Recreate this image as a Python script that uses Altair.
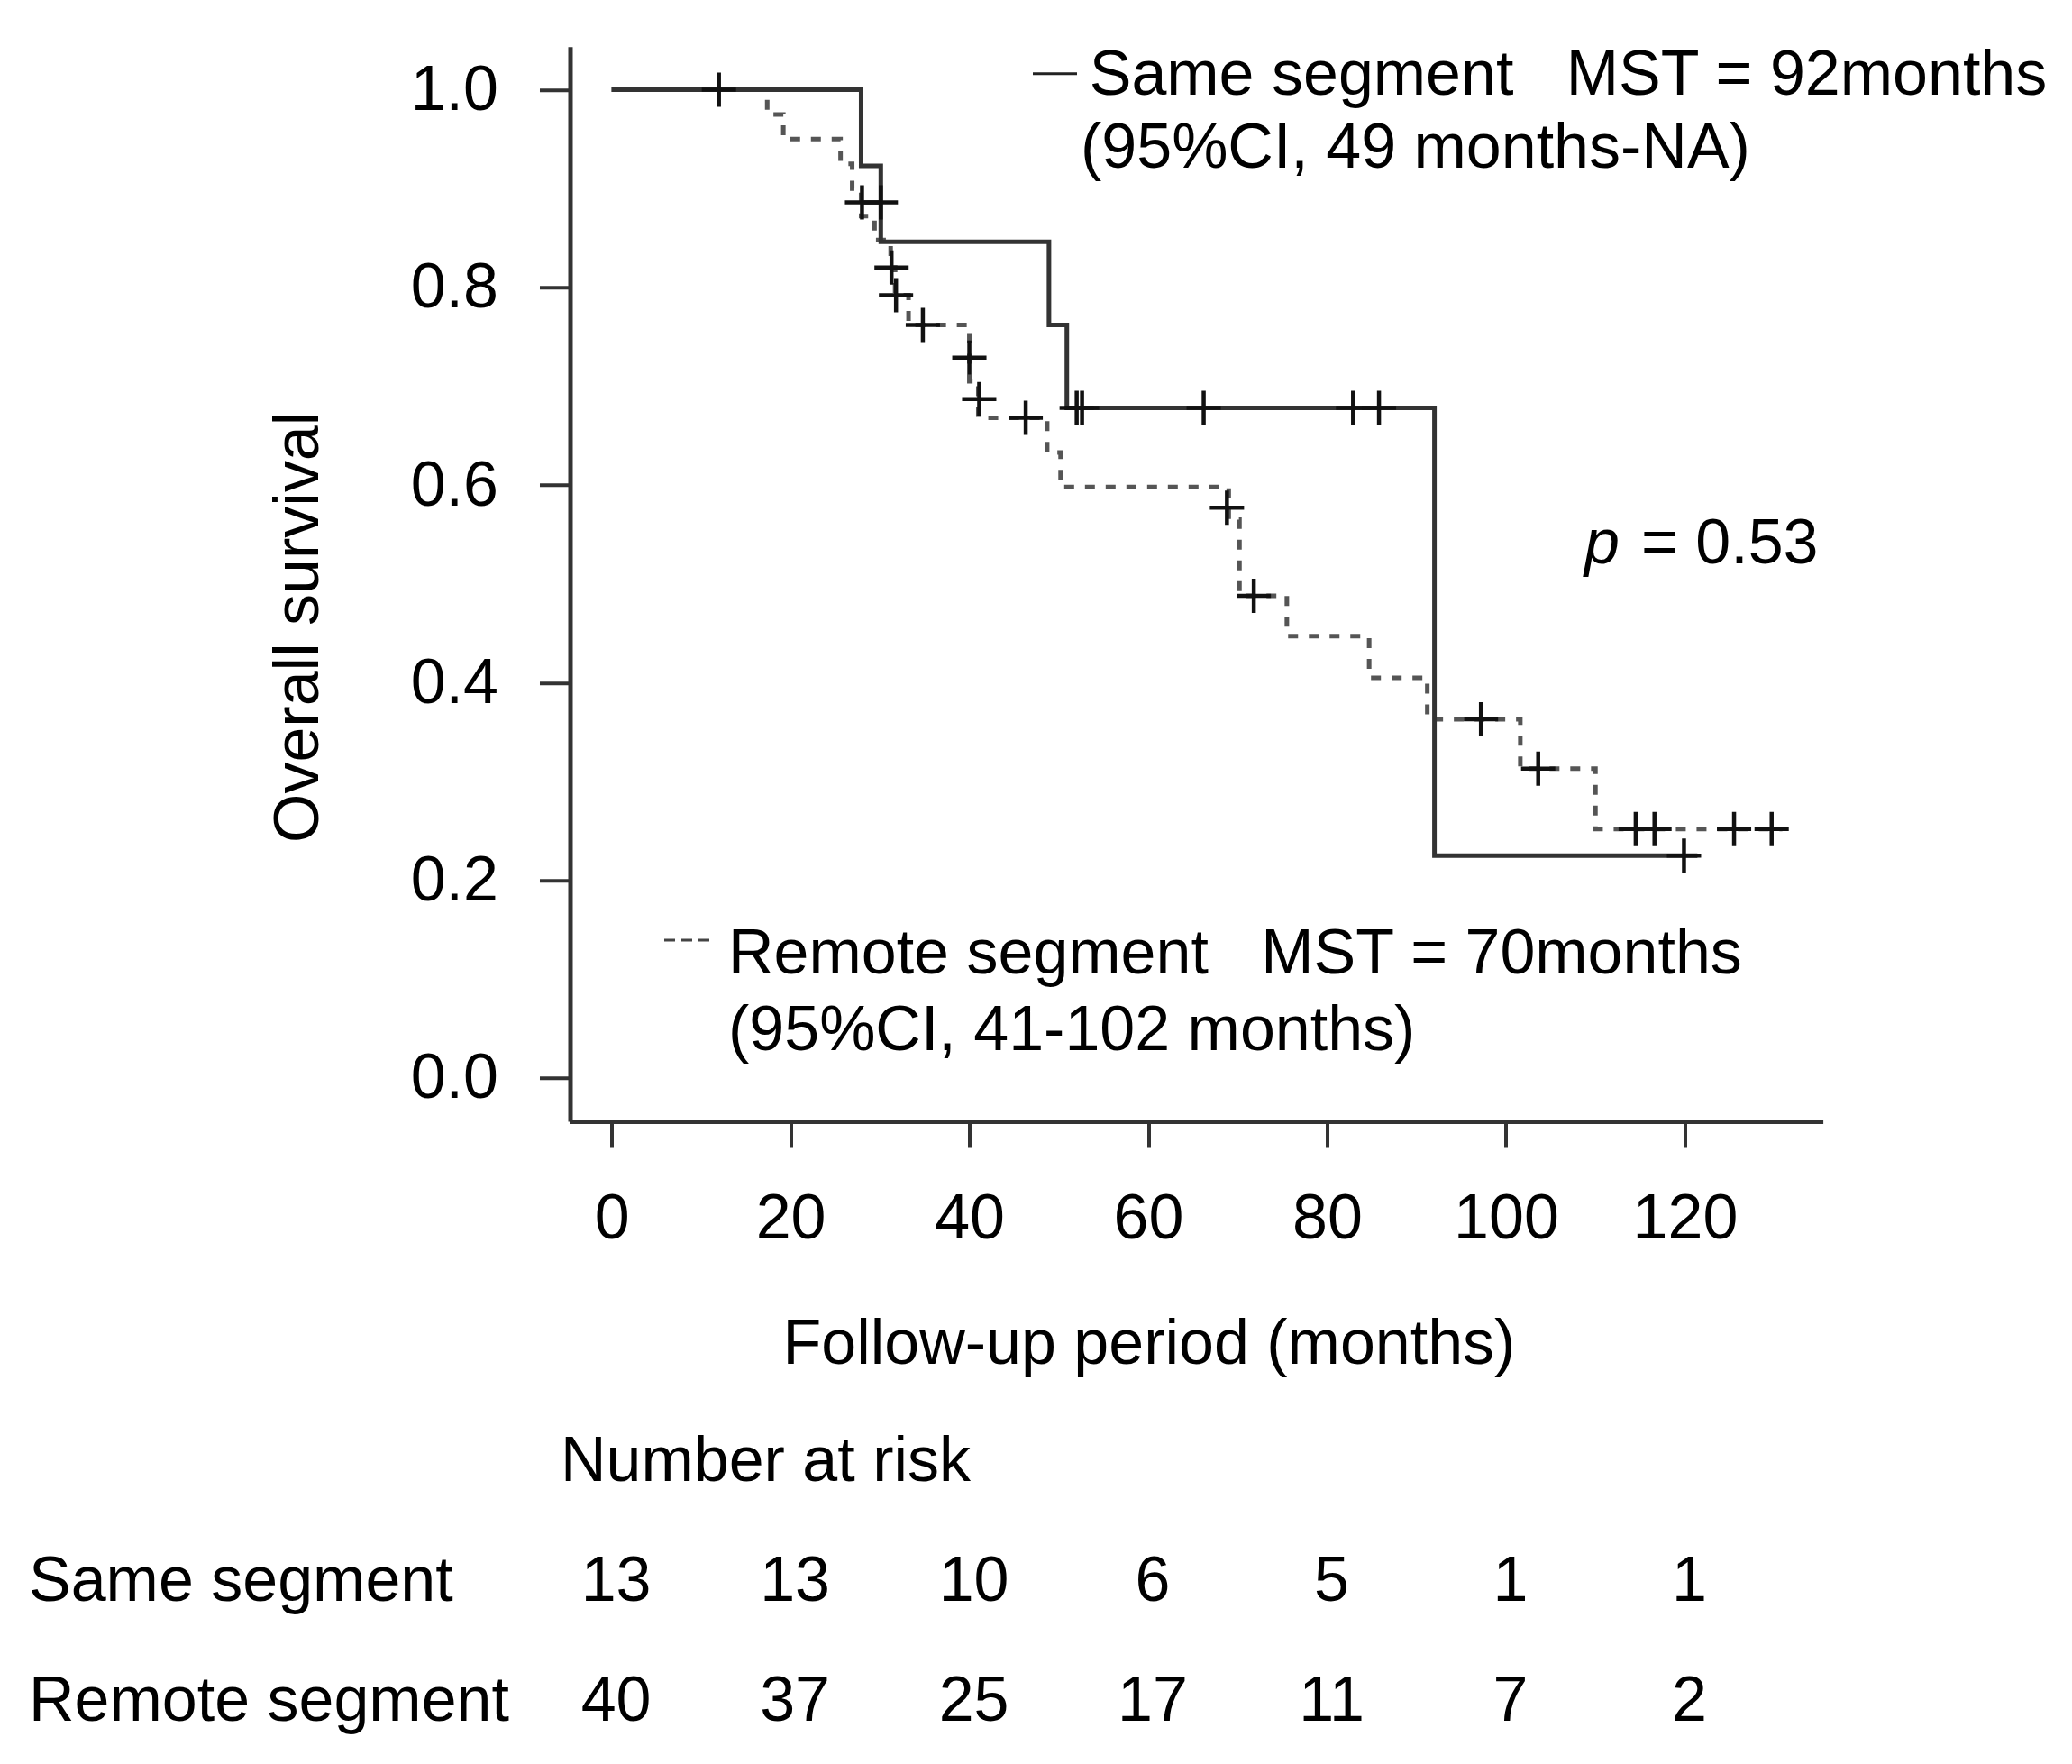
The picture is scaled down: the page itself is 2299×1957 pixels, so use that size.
import altair as alt
import pandas as pd

# Kaplan-Meier steps (months, survival)
same_t = [0, 27.9, 30.1, 48.9, 50.9, 92.0, 121.4]
same_s = [1.0, 0.923, 0.846, 0.762, 0.678, 0.225, 0.225]
remote_t = [0, 17.4, 19.2, 25.6, 26.9, 27.9, 29.4, 31.2, 31.7, 33.2, 40.0, 41.0,
            48.7, 50.2, 69.0, 70.2, 75.5, 84.7, 91.2, 101.6, 110.0, 130.9]
remote_s = [1.0, 0.975, 0.95, 0.925, 0.90, 0.872, 0.848, 0.82, 0.792, 0.762, 0.705, 0.668,
            0.633, 0.598, 0.565, 0.488, 0.447, 0.405, 0.363, 0.313, 0.252, 0.252]

# censoring marks
same_cens_t = [12.0, 30.1, 52.0, 52.6, 66.2, 82.9, 85.8, 119.9]
same_cens_s = [1.0, 0.886, 0.678, 0.678, 0.678, 0.678, 0.678, 0.225]
remote_cens_t = [28.0, 31.3, 31.8, 34.8, 40.0, 41.1, 46.3, 68.8, 71.8, 97.2, 103.6,
                 114.5, 116.6, 125.5, 129.7]
remote_cens_s = [0.886, 0.82, 0.792, 0.762, 0.729, 0.687, 0.668, 0.577, 0.488, 0.363, 0.313,
                 0.252, 0.252, 0.252, 0.252]

# number at risk table
risk_months = [0, 20, 40, 60, 80, 100, 120]
same_risk = [13, 13, 10, 6, 5, 1, 1]
remote_risk = [40, 37, 25, 17, 11, 7, 2]

x_ticks = [0, 20, 40, 60, 80, 100, 120]
y_ticks = [0.0, 0.2, 0.4, 0.6, 0.8, 1.0]

NBSP = "\u00a0"
same_label = "Same segment" + NBSP * 3 + "MST = 92months"
same_ci = "(95%CI, 49 months-NA)"
remote_label = "Remote segment" + NBSP * 3 + "MST = 70months"
remote_ci = "(95%CI, 41-102 months)"

FONT = "Liberation Sans"
FS = 70
AXIS_COLOR = "#333333"

x_enc = alt.X(
    "t:Q",
    scale=alt.Scale(domain=[-4.645, 135.43], nice=False, zero=False),
    axis=alt.Axis(
        values=x_ticks, title="Follow-up period (months)", format="d",
        tickSize=29, labelPadding=101, labelBaseline="alphabetic",
        titleX=235.5, titleY=269, titleAlign="left", titleBaseline="alphabetic",
    ),
)
y_enc = alt.Y(
    "s:Q",
    scale=alt.Scale(domain=[-0.0438, 1.0436], nice=False, zero=False),
    axis=alt.Axis(
        values=y_ticks, title="Overall survival", format=".1f",
        tickSize=34, labelPadding=46, labelBaseline="alphabetic", labelOffset=22,
        titleX=-279.5, titleY=882.8, titleAngle=270, titleAlign="left",
        titleBaseline="alphabetic",
    ),
)

same_df = pd.DataFrame({"t": same_t, "s": same_s})
remote_df = pd.DataFrame({"t": remote_t, "s": remote_s})
cens_df = pd.DataFrame({"t": same_cens_t + remote_cens_t, "s": same_cens_s + remote_cens_s})
risk_df = pd.DataFrame({"t": risk_months, "same": same_risk, "remote": remote_risk})

line_same = alt.Chart(same_df).mark_line(
    interpolate="step-after", color="#333333", strokeWidth=5
).encode(x=x_enc, y=y_enc)

line_remote = alt.Chart(remote_df).mark_line(
    interpolate="step-after", color="#555555", strokeWidth=5, strokeDash=[11, 12]
).encode(x=x_enc, y=y_enc)

censors = alt.Chart(cens_df).mark_point(
    shape="M-1,0H1M0,-1V1", size=1444, filled=False, strokeWidth=4.5,
    color="#111111", opacity=1
).encode(x=x_enc, y=y_enc)


def label(text, x, y, align="left", style="normal"):
    return alt.Chart(pd.DataFrame({"txt": [text]})).mark_text(
        align=align, baseline="alphabetic", font=FONT, fontSize=FS,
        fontStyle=style, color="black"
    ).encode(text="txt:N", x=alt.value(x), y=alt.value(y))


def risk_row(col, y):
    return alt.Chart(risk_df).mark_text(
        align="center", baseline="alphabetic", font=FONT, fontSize=FS,
        color="black", dx=5
    ).encode(x=x_enc, y=alt.value(y), text=f"{col}:Q")


one = pd.DataFrame({"k": [0]})
key_same = alt.Chart(one).mark_rule(color="#222222", strokeWidth=3).encode(
    x=alt.value(513.5), x2=alt.value(562.5), y=alt.value(30)
)
key_remote = alt.Chart(one).mark_rule(
    color="#444444", strokeWidth=3, strokeDash=[12, 7]
).encode(x=alt.value(104.5), x2=alt.value(154.5), y=alt.value(991.3))

chart = alt.layer(
    line_remote,
    line_same,
    censors,
    key_same,
    key_remote,
    label(same_label, 576.2, 53.3),
    label(same_ci, 566.5, 134),
    label(remote_label, 175.5, 1028.3),
    label(remote_ci, 175.5, 1113.3),
    label("p", 1125.5, 573.5, style="italic"),
    label("= 0.53", 1188.5, 573.5),
    label("Number at risk", -10.5, 1591.8),
    label("Same segment", -600.5, 1724.5),
    label("Remote segment", -600.5, 1857.5),
    risk_row("same", 1724.5),
    risk_row("remote", 1857.5),
).properties(
    width=1390.1,
    height=1192.3,
    autosize=alt.AutoSizeParams(type="none"),
    padding={"left": 624.5, "top": 43.7, "right": 268, "bottom": 700},
).configure_view(
    strokeWidth=0
).configure_axis(
    grid=False,
    domainColor=AXIS_COLOR, domainWidth=5,
    tickColor=AXIS_COLOR, tickWidth=4,
    labelFont=FONT, labelFontSize=FS, labelColor="black",
    labelFlush=False, labelOverlap=False, labelBound=False,
    titleFont=FONT, titleFontSize=FS, titleFontWeight="normal", titleColor="black",
)

chart.save("out.html", embed_options={"renderer": "svg", "actions": False})
